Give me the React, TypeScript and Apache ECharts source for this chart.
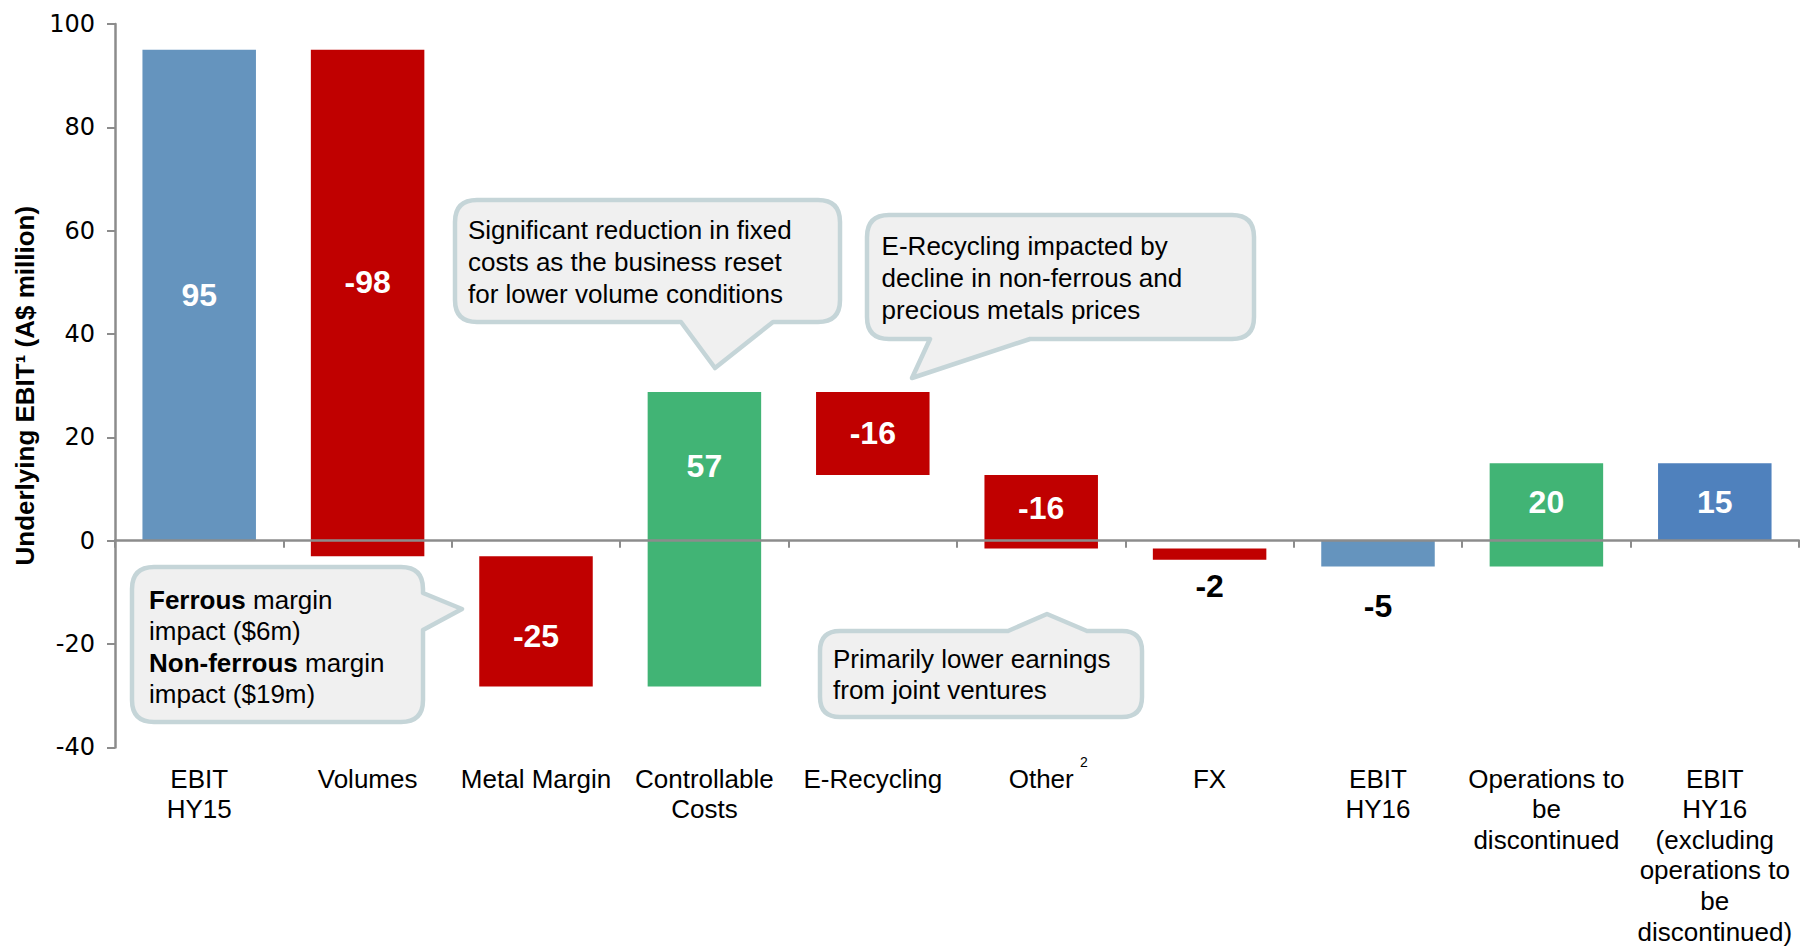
import React, { useEffect, useRef } from "react";
import * as echarts from "echarts";

// ---- data ----
const categories = [
  "EBIT\nHY15",
  "Volumes",
  "Metal Margin",
  "Controllable\nCosts",
  "E-Recycling",
  "Other",
  "FX",
  "EBIT\nHY16",
  "Operations to\nbe\ndiscontinued",
  "EBIT\nHY16\n(excluding\noperations to\nbe\ndiscontinued)",
];
const changes = [95, -98, -25, 57, -16, -16, -2, -5, 20, 15];
const barStart = [0, 95, -3, -28.2, 28.8, 12.7, -1.5, 0, -5, 0];
const barEnd = [95, -3, -28.2, 28.8, 12.7, -1.5, -3.7, -5, 15, 15];
const yTicks = { min: -40, max: 100, interval: 20 };
const footnoteOther = "2";

// ---- styles ----
const BLUE = "#6594BE";
const RED = "#C00000";
const GREEN = "#41B475";
const BLUE2 = "#4F81BD";
const barColors = [BLUE, RED, RED, GREEN, RED, RED, RED, BLUE, GREEN, BLUE2];
const labelOffset = [0, -13, 15, 0, 0, 0, 26, 39, 0, 0];
const AXIS = "#8C8C8C";
const FONT = '"Liberation Sans", Arial, sans-serif';
const BOX_FILL = "#F0F0F0";
const BOX_STROKE = "#C5D5D8";

function calloutPath(
  x0: number, y0: number, x1: number, y1: number, r: number,
  side: string, a: number, tip: [number, number], b: number
) {
  let d = `M ${x0 + r} ${y0} `;
  if (side === "top") d += `L ${a} ${y0} L ${tip[0]} ${tip[1]} L ${b} ${y0} `;
  d += `L ${x1 - r} ${y0} Q ${x1} ${y0} ${x1} ${y0 + r} `;
  if (side === "right") d += `L ${x1} ${a} L ${tip[0]} ${tip[1]} L ${x1} ${b} `;
  d += `L ${x1} ${y1 - r} Q ${x1} ${y1} ${x1 - r} ${y1} `;
  if (side === "bottom") d += `L ${a} ${y1} L ${tip[0]} ${tip[1]} L ${b} ${y1} `;
  d += `L ${x0 + r} ${y1} Q ${x0} ${y1} ${x0} ${y1 - r} L ${x0} ${y0 + r} Q ${x0} ${y0} ${x0 + r} ${y0} Z`;
  return d;
}

let registered = false;
function registerShapes() {
  if (registered) return;
  registered = true;
  const g: any = echarts.graphic;
  g.registerShape("calloutA", g.extendPath(calloutPath(132, 567, 423, 722, 22, "right", 593, [462, 609], 630), {}));
  g.registerShape("calloutB", g.extendPath(calloutPath(455, 200, 840, 322, 22, "bottom", 773, [715, 368], 681), {}));
  g.registerShape("calloutC", g.extendPath(calloutPath(867, 215, 1254, 339, 22, "bottom", 1030, [912, 378], 930), {}));
  g.registerShape("calloutD", g.extendPath(calloutPath(820, 631, 1142, 717, 20, "top", 1008, [1047, 614], 1087), {}));
}

function boxShape(type: string) {
  return {
    type,
    z: 100,
    silent: true,
    style: { fill: BOX_FILL, stroke: BOX_STROKE, lineWidth: 4.5, lineJoin: "round" },
  };
}

function boxText(x: number, y: number, text: string, lh: number) {
  return {
    type: "text",
    z: 101,
    x,
    y,
    silent: true,
    style: {
      text,
      fill: "#000",
      fontSize: 26,
      fontFamily: FONT,
      lineHeight: lh,
      verticalAlign: "top",
      align: "left",
      rich: {
        b: { fontWeight: "bold", fontSize: 26, fontFamily: FONT, lineHeight: lh, fill: "#000" },
      },
    },
  };
}

export default function App() {
  const ref = useRef<HTMLDivElement>(null);
  useEffect(() => {
    if (!ref.current) return;
    registerShapes();
    const chart = echarts.init(ref.current, undefined, { renderer: "svg" });

    const data = categories.map((_, i) => [i, barStart[i], barEnd[i]]);

    const option: any = {
      animation: false,
      backgroundColor: "#fff",
      grid: { left: 115, right: 1, top: 24, bottom: 198, containLabel: false },
      xAxis: [
        {
          type: "category",
          data: categories,
          z: 5,
          axisLine: { onZero: true, lineStyle: { color: AXIS, width: 2.5 } },
          axisTick: { show: true, interval: 0, length: 7, lineStyle: { color: AXIS, width: 2 } },
          axisLabel: { show: false },
          splitLine: { show: false },
        },
        {
          type: "category",
          data: categories,
          position: "bottom",
          axisLine: { show: false, onZero: false },
          axisTick: { show: false },
          splitLine: { show: false },
          axisLabel: {
            interval: 0,
            margin: 16,
            fontSize: 26,
            fontFamily: FONT,
            color: "#000",
            lineHeight: 30.6,
          },
        },
      ],
      yAxis: {
        type: "value",
        min: yTicks.min,
        max: yTicks.max,
        interval: yTicks.interval,
        name: "Underlying EBIT\u00B9 (A$ million)",
        nameLocation: "middle",
        nameGap: 76,
        nameTextStyle: { fontSize: 26, fontWeight: "bold", fontFamily: FONT, color: "#000" },
        axisLine: { show: true, lineStyle: { color: AXIS, width: 2.5 } },
        axisTick: { show: true, length: 8, lineStyle: { color: AXIS, width: 2 } },
        axisLabel: { fontSize: 24, fontFamily: '"DejaVu Sans", sans-serif', color: "#000", margin: 20 },
        splitLine: { show: false },
      },
      series: [
        {
          type: "custom",
          xAxisIndex: 0,
          yAxisIndex: 0,
          encode: { x: 0, y: [1, 2] },
          data,
          renderItem: (params: any, api: any) => {
            const i = api.value(0);
            const s = api.value(1);
            const e = api.value(2);
            const hi = Math.max(s, e);
            const lo = Math.min(s, e);
            const top = api.coord([i, hi]);
            const bot = api.coord([i, lo]);
            const w = api.size([1, 0])[0] * 0.674;
            const cx = top[0];
            const outside = Math.abs(changes[i]) <= 5;
            let ly: number;
            if (outside) {
              ly = bot[1] + labelOffset[i];
            } else {
              const anchor = lo < 0 && hi > 0 ? hi / 2 : (lo + hi) / 2;
              ly = api.coord([i, anchor])[1] + labelOffset[i];
            }
            return {
              type: "group",
              children: [
                {
                  type: "rect",
                  shape: { x: cx - w / 2, y: top[1], width: w, height: bot[1] - top[1] },
                  style: { fill: barColors[i] },
                },
                {
                  type: "text",
                  x: cx,
                  y: ly,
                  style: {
                    text: String(changes[i]),
                    fill: outside ? "#000" : "#fff",
                    fontSize: 32,
                    fontWeight: "bold",
                    fontFamily: FONT,
                    align: "center",
                    verticalAlign: "middle",
                  },
                },
              ],
            };
          },
        },
      ],
      graphic: [
        boxShape("calloutA"),
        boxText(149, 584, "{b|Ferrous} margin\nimpact ($6m)\n{b|Non-ferrous} margin\nimpact ($19m)", 31.5),
        boxShape("calloutB"),
        boxText(468, 213.6, "Significant reduction in fixed\ncosts as the business reset\nfor lower volume conditions", 32),
        boxShape("calloutC"),
        boxText(881.6, 229.7, "E-Recycling impacted by\ndecline in non-ferrous and\nprecious metals prices", 32),
        boxShape("calloutD"),
        boxText(833, 643.5, "Primarily lower earnings\nfrom joint ventures", 31),
        {
          type: "text",
          x: 1084,
          y: 762,
          silent: true,
          style: {
            text: footnoteOther,
            fill: "#000",
            fontSize: 14,
            fontFamily: FONT,
            align: "center",
            verticalAlign: "middle",
          },
        },
      ],
    };
    chart.setOption(option);
    return () => chart.dispose();
  }, []);
  return (
    <div
      ref={ref}
      style={{ position: "absolute", left: 0, top: 0, width: 1800, height: 947, background: "#fff" }}
    />
  );
}
